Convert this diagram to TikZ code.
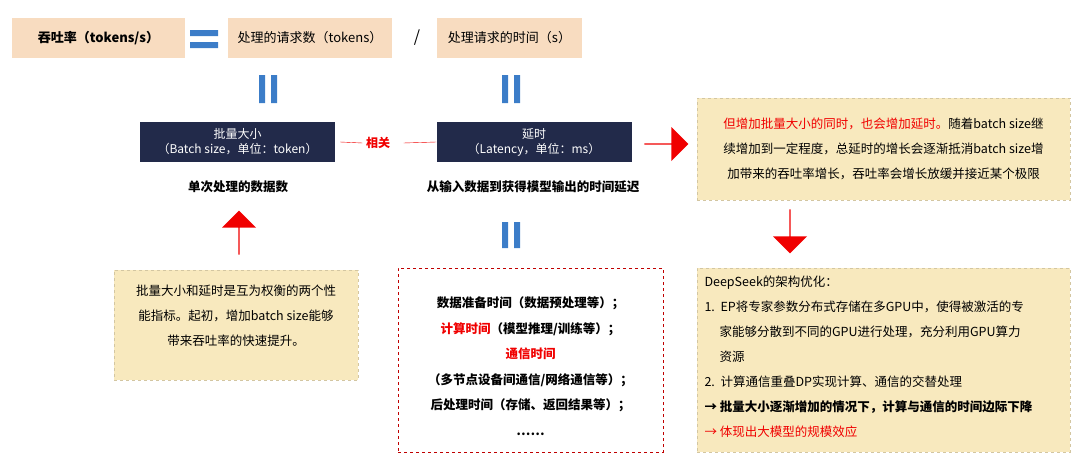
\documentclass[tikz,border=0pt]{standalone}
\usepackage{fontspec}
\setmainfont{Noto Sans CJK SC}
\usetikzlibrary{shapes.arrows}
\definecolor{peach}{HTML}{F8DCC0}
\definecolor{navy}{HTML}{222A4A}
\definecolor{ybox}{HTML}{F8E9BE}
\definecolor{bblue}{HTML}{3C7DC8}
\definecolor{rred}{HTML}{F00000}
\begin{document}
\begin{tikzpicture}[x=1pt,y=-1pt,
 peachbox/.style={fill=peach,minimum height=40pt,inner sep=0pt,font=\fontsize{13}{16}\selectfont},
 navybox/.style={fill=navy,text=white,minimum width=195pt,minimum height=40pt,inner sep=0pt,align=center,font=\fontsize{12}{15}\selectfont},
 ynote/.style={fill=ybox,draw=ybox!85!black,dashed,inner sep=0pt},
 txt/.style={align=center,font=\fontsize{12.5}{24}\selectfont},
 bar/.style={fill=bblue},
 redarrow/.style={fill=rred,single arrow,single arrow head extend=6pt,minimum height=44pt,minimum width=34pt,inner sep=0pt}]
\useasboundingbox (0,0) rectangle (1080,466);
% top row
\node[peachbox,minimum width=173pt,font=\bfseries\fontsize{13}{16}\selectfont] (thr) at (98.5,38) {吞吐率（tokens/s）};
\fill[bar] (190,30) rectangle (218,36) (190,42) rectangle (218,48);
\node[peachbox,minimum width=164pt] (req) at (310,38) {处理的请求数（tokens）};
\node[font=\fontsize{16}{16}\selectfont] (slash) at (417,38) {/};
\node[peachbox,minimum width=145pt] (tim) at (509.5,38) {处理请求的时间（s）};
\fill[bar] (259,75) rectangle (265,103) (271,75) rectangle (277,103);
\fill[bar] (502,75) rectangle (508,103) (514,75) rectangle (520,103);
% navy row
\node[navybox] (bs) at (237.5,142) {批量大小\\（Batch size，单位：token）};
\node[navybox] (lat) at (534,142) {延时\\（Latency，单位：ms）};
\node[text=rred,font=\bfseries\fontsize{12}{15}\selectfont] (rel) at (378,143) {相关};
\draw[rred] (bs.east)++(5,0) -- (rel.west);
\draw[rred] (rel.east)++(10,0) -- (lat.west);
\node[txt,font=\bfseries\fontsize{12.5}{15}\selectfont] (d1) at (238,187) {单次处理的数据数};
\node[txt,font=\bfseries\fontsize{12.5}{15}\selectfont] (d2) at (533,187) {从输入数据到获得模型输出的时间延迟};
\node[redarrow] (ar1) at (666,144) {};
\node[redarrow,rotate=90] (ar2) at (239,233) {};
\node[redarrow,rotate=-90] (ar3) at (790,231) {};
\fill[bar] (502,222) rectangle (508,248) (514,222) rectangle (520,248);
% right top note
\node[ynote,minimum width=373pt,minimum height=102pt] (n1) at (883.5,149) {};
\node[txt,font=\fontsize{12.5}{25}\selectfont] at (n1.center) {\textcolor{rred}{但增加批量大小的同时，也会增加延时。}随着batch size继\\续增加到一定程度，总延时的增长会逐渐抵消batch size增\\加带来的吞吐率增长，吞吐率会增长放缓并接近某个极限};
% left note
\node[ynote,minimum width=244pt,minimum height=110pt] (n2) at (236,325) {};
\node[txt,font=\fontsize{12.5}{25}\selectfont] at (236,316) {批量大小和延时是互为权衡的两个性\\能指标。起初，增加batch size能够\\带来吞吐率的快速提升。};
% middle dashed
\node[draw=rred!80!black,dashed,thick,minimum width=265pt,minimum height=184pt,inner sep=0pt] (n3) at (530.5,360) {};
\node[txt,font=\bfseries\fontsize{12.5}{25.5}\selectfont] at (530.5,366) {数据准备时间（数据预处理等）；\\\textcolor{rred}{计算时间}（模型推理/训练等）；\\\textcolor{rred}{通信时间}\\（多节点设备间通信/网络通信等）；\\后处理时间（存储、返回结果等）；\\……};
% right bottom note
\node[ynote,minimum width=373pt,minimum height=184pt] (n4) at (883.5,360) {};
\node[align=left,anchor=north west,font=\fontsize{12.5}{25}\selectfont] at (701,272) {DeepSeek的架构优化：\\1.\ \ EP将专家参数分布式存储在多GPU中，使得被激活的专\\\hspace*{1.2em}家能够分散到不同的GPU进行处理，充分利用GPU算力\\\hspace*{1.2em}资源\\2.\ \ 计算通信重叠DP实现计算、通信的交替处理\\\textbf{→ 批量大小逐渐增加的情况下，计算与通信的时间边际下降}\\\textcolor{rred}{→ 体现出大模型的规模效应}};
\end{tikzpicture}
\end{document}
